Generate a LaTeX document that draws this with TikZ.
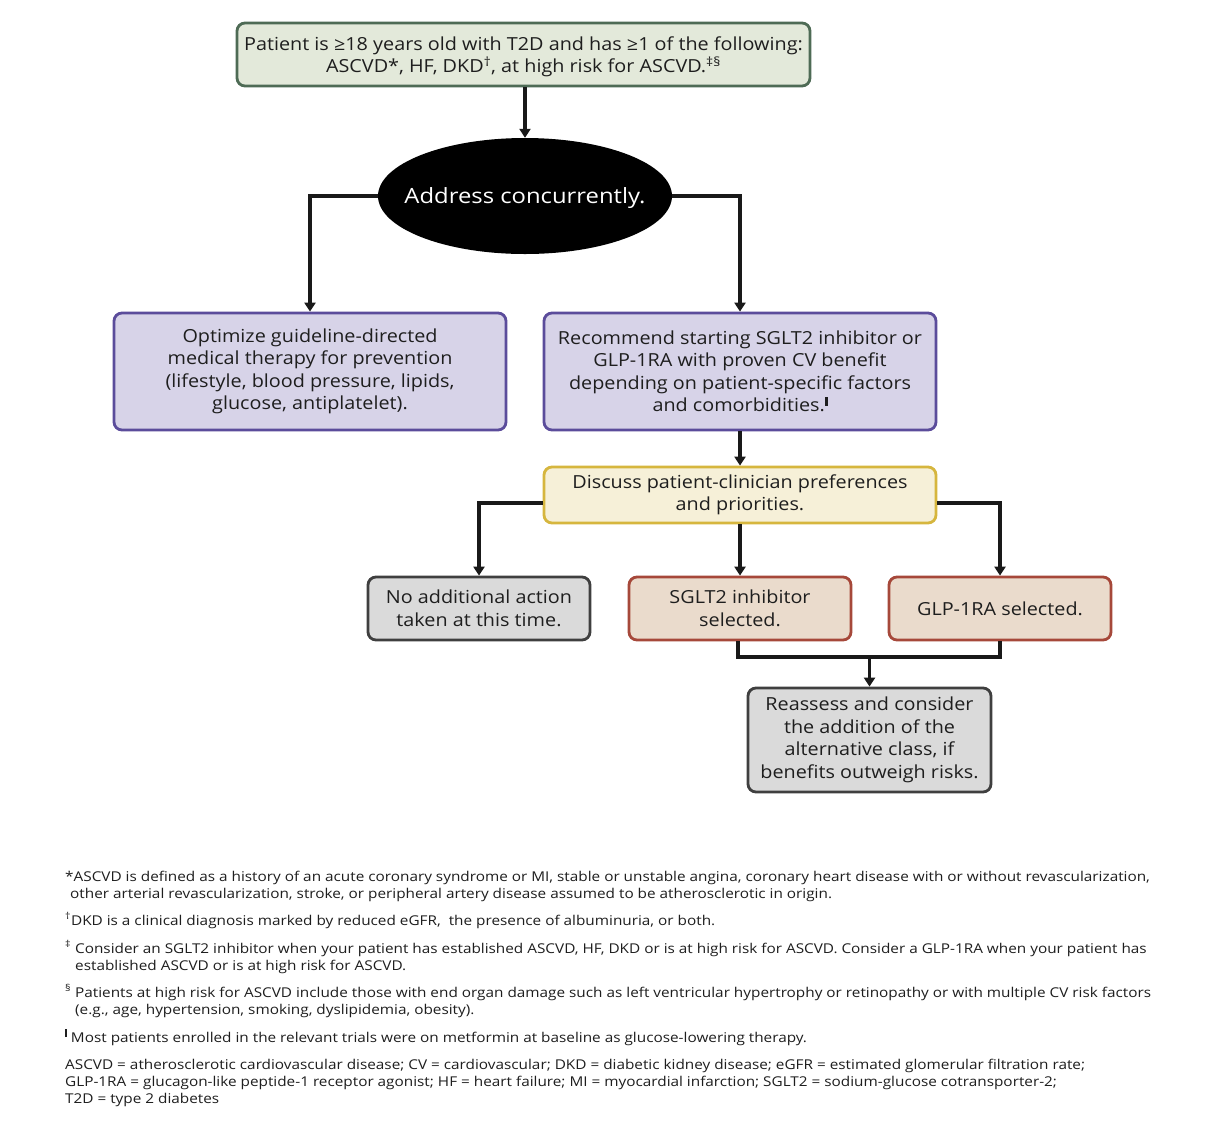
\documentclass[tikz,border=0pt]{standalone}
\usepackage{fontspec}
\setmainfont{Open Sans}[FakeStretch=1.10]
\newfontfamily\fnfont{Open Sans}[FakeStretch=1.135]
\usetikzlibrary{arrows.meta,calc,shapes.geometric}
\definecolor{gfill}{HTML}{E3E9DA}\definecolor{gdraw}{HTML}{4E6B55}
\definecolor{pfill}{HTML}{D7D3E8}\definecolor{pdraw}{HTML}{5B4C9B}
\definecolor{yfill}{HTML}{F6F0D8}\definecolor{ydraw}{HTML}{D6B63E}
\definecolor{kfill}{HTML}{DADADA}\definecolor{kdraw}{HTML}{3F3F3F}
\definecolor{rfill}{HTML}{EADBCC}\definecolor{rdraw}{HTML}{A6483A}
\definecolor{txt}{HTML}{1E1E1E}
\newcommand{\barmark}{\rule[6pt]{2.6pt}{9pt}}
\begin{document}
\begin{tikzpicture}[x=1pt,y=-1pt,
  box/.style={draw, rounded corners=8pt, line width=2.8pt, align=center, inner sep=0pt,
    font=\fontsize{18}{22.5}\selectfont, text=txt},
  gbox/.style={box, fill=gfill, draw=gdraw},
  pbox/.style={box, fill=pfill, draw=pdraw},
  ybox/.style={box, fill=yfill, draw=ydraw},
  kbox/.style={box, fill=kfill, draw=kdraw},
  rbox/.style={box, fill=rfill, draw=rdraw},
  conn/.style={line width=3.3pt, draw=black!90},
  arr/.style={conn, -{Triangle[width=11pt,length=9pt]}},
  fn/.style={anchor=base west, inner sep=0pt, font=\fnfont\fontsize{13.5}{17}\selectfont, text=txt}]
\useasboundingbox (0,0) rectangle (1213,1128);
\fill[white] (0,0) rectangle (1213,1128);

\node[gbox, minimum width=573pt, minimum height=63pt] (top) at (523.5,54.5) {};
\node[align=center, inner sep=0pt, font=\fontsize{18}{22.5}\selectfont, text=txt] (toptext) at (523.5,57)
  {Patient is ≥18 years old with T2D and has ≥1 of the following:\\
   ASCVD*, HF, DKD\textsuperscript{†}, at high risk for ASCVD.\textsuperscript{‡§}};
\node[ellipse, fill=black, minimum width=294pt, minimum height=116pt, inner sep=0pt] (ell) at (525,196) {};
\node[inner sep=0pt, text=white, font=\fnfont\fontsize{21}{26}\selectfont] (elltext) at (525,198) {Address concurrently.};
\node[pbox, minimum width=392pt, minimum height=117pt] (lbox) at (310,371.5)
  {Optimize guideline-directed\\ medical therapy for prevention\\ (lifestyle, blood pressure, lipids,\\ glucose, antiplatelet).};
\node[pbox, minimum width=392pt, minimum height=117pt] (rbox) at (740,371.5)
  {Recommend starting SGLT2 inhibitor or\\ GLP-1RA with proven CV benefit\\ depending on patient-specific factors\\ and comorbidities.\barmark};
\node[ybox, minimum width=392pt, minimum height=56pt] (yel) at (740,495)
  {Discuss patient-clinician preferences\\ and priorities.};
\node[kbox, minimum width=222pt, minimum height=63pt] (none) at (479,608.5)
  {No additional action\\ taken at this time.};
\node[rbox, minimum width=222pt, minimum height=63pt] (sglt) at (740,608.5)
  {SGLT2 inhibitor\\ selected.};
\node[rbox, minimum width=222pt, minimum height=63pt] (glp) at (1000,608.5)
  {GLP-1RA selected.};
\node[kbox, minimum width=243pt, minimum height=104pt] (reass) at (869.5,740)
  {Reassess and consider\\ the addition of the\\ alternative class, if\\ benefits outweigh risks.};

\draw[arr] (top.south -| ell.north) -- (ell.north);
\draw[arr] (ell.west) -| (lbox.north);
\draw[arr] (ell.east) -| (rbox.north);
\draw[arr] (rbox.south) -- (yel.north);
\coordinate (ylev) at (0,503);
\draw[arr] (yel.west |- ylev) -| (none.north);
\draw[arr] (yel.south) -- (sglt.north);
\draw[arr] (yel.east |- ylev) -| (glp.north);
\coordinate (mlev) at (0,657);
\draw[conn, line width=4pt] ([xshift=-2pt]sglt.south) -- ([xshift=-2pt]sglt.south |- mlev) -- (glp.south |- mlev) -- (glp.south);
\draw[arr] (reass.north |- mlev) -- (reass.north);

\node[fn] (f1) at (65,881) {*ASCVD is defined as a history of an acute coronary syndrome or MI, stable or unstable angina, coronary heart disease with or without revascularization,};
\node[fn] (f1b) at (70,898) {other arterial revascularization, stroke, or peripheral artery disease assumed to be atherosclerotic in origin.};
\node[fn] (f2) at (65,925) {\textsuperscript{†}DKD is a clinical diagnosis marked by reduced eGFR,\ \ the presence of albuminuria, or both.};
\node[fn] (f3) at (65,953) {\textsuperscript{‡} Consider an SGLT2 inhibitor when your patient has established ASCVD, HF, DKD or is at high risk for ASCVD. Consider a GLP-1RA when your patient has};
\node[fn] (f3b) at (75,970) {established ASCVD or is at high risk for ASCVD.};
\node[fn] (f4) at (65,997) {\textsuperscript{§} Patients at high risk for ASCVD include those with end organ damage such as left ventricular hypertrophy or retinopathy or with multiple CV risk factors};
\node[fn] (f4b) at (75,1014) {(e.g., age, hypertension, smoking, dyslipidemia, obesity).};
\node[fn] (f5) at (65,1042) {\rule[5pt]{1.8pt}{8pt} Most patients enrolled in the relevant trials were on metformin at baseline as glucose-lowering therapy.};
\node[fn] (f6) at (65,1069) {ASCVD = atherosclerotic cardiovascular disease; CV = cardiovascular; DKD = diabetic kidney disease; eGFR = estimated glomerular filtration rate;};
\node[fn] (f6b) at (65,1086) {GLP-1RA = glucagon-like peptide-1 receptor agonist; HF = heart failure; MI = myocardial infarction; SGLT2 = sodium-glucose cotransporter-2;};
\node[fn] (f6c) at (65,1103) {T2D = type 2 diabetes};
\end{tikzpicture}
\end{document}
